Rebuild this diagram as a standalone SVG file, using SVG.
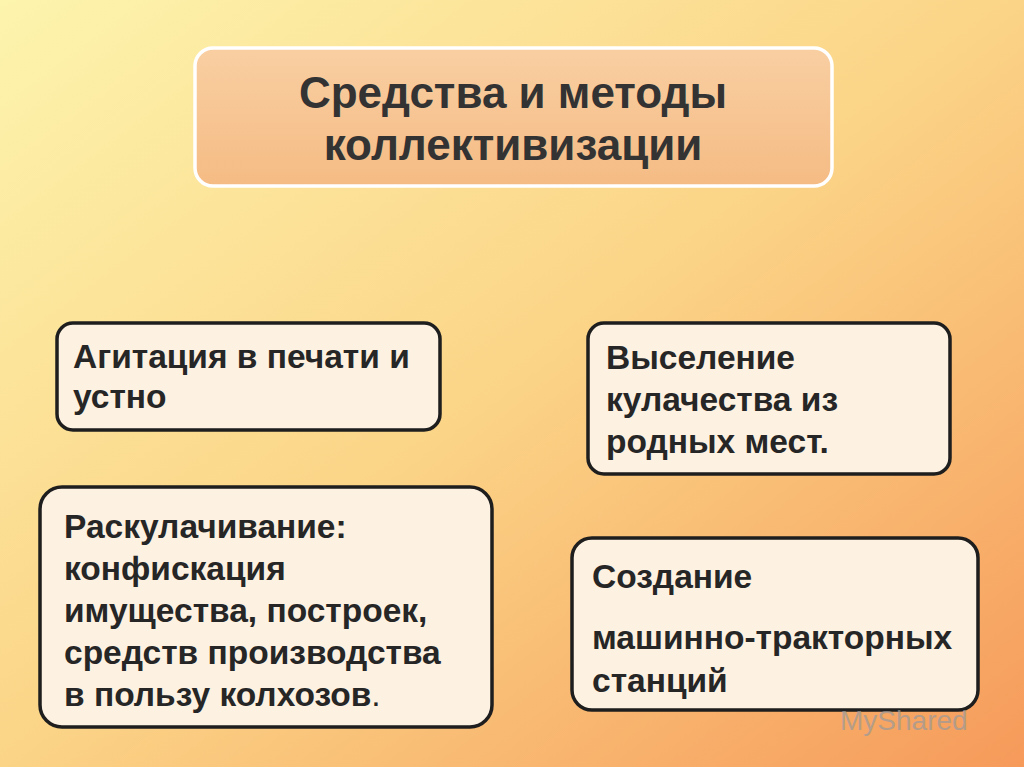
<svg xmlns="http://www.w3.org/2000/svg" width="1024" height="767" viewBox="0 0 1024 767">
<defs>
<linearGradient id="bg" x1="0" y1="0" x2="1" y2="1">
<stop offset="0" stop-color="#fdf4ad"/>
<stop offset="0.5" stop-color="#fbd487"/>
<stop offset="1" stop-color="#f69a5a"/>
</linearGradient>
<linearGradient id="tb" x1="0" y1="0" x2="0" y2="1">
<stop offset="0" stop-color="#f9cfa2"/>
<stop offset="1" stop-color="#f5bb84"/>
</linearGradient>
</defs>
<style>
.box{fill:#fdf1e1;stroke:#1e1e1e;stroke-width:3.5}
.t{font-family:"Liberation Sans",Arial,sans-serif;font-weight:bold;font-size:33.5px;fill:#262626}
.h{font-family:"Liberation Sans",Arial,sans-serif;font-weight:bold;font-size:44px;fill:#333;text-anchor:middle}
</style>
<rect width="1024" height="767" fill="url(#bg)"/>
<g id="title">
<rect x="195" y="48" width="637" height="138" rx="18" fill="url(#tb)" stroke="#fff" stroke-width="3.5"/>
<text class="h" x="513" y="108">Средства и методы</text>
<text class="h" x="513" y="160">коллективизации</text>
</g>
<g id="connectors"/>
<g id="n1">
<rect class="box" x="57" y="323" width="383" height="107" rx="16"/>
<text class="t" x="73" y="368">Агитация в печати и</text>
<text class="t" x="73" y="408">устно</text>
</g>
<g id="n2">
<rect class="box" x="588" y="323" width="362" height="151" rx="16"/>
<text class="t" x="606" y="369">Выселение</text>
<text class="t" x="606" y="411">кулачества из</text>
<text class="t" x="606" y="453">родных мест.</text>
</g>
<g id="n3">
<rect class="box" x="40" y="487" width="452" height="240" rx="22"/>
<text class="t" x="64" y="538">Раскулачивание:</text>
<text class="t" x="64" y="580">конфискация</text>
<text class="t" x="64" y="622">имущества, построек,</text>
<text class="t" x="64" y="664">средств производства</text>
<text class="t" x="64" y="706">в пользу колхозов<tspan font-weight="normal">.</tspan></text>
</g>
<g id="n4">
<rect class="box" x="572" y="538" width="406" height="172" rx="20"/>
<text class="t" x="592" y="588">Создание</text>
<text class="t" x="592" y="649">машинно-тракторных</text>
<text class="t" x="592" y="692">станций</text>
</g>
<text x="840" y="730" font-family="Liberation Sans,Arial,sans-serif" font-size="28" fill="#9a9a9a" opacity="0.7">MyShared</text>
</svg>
